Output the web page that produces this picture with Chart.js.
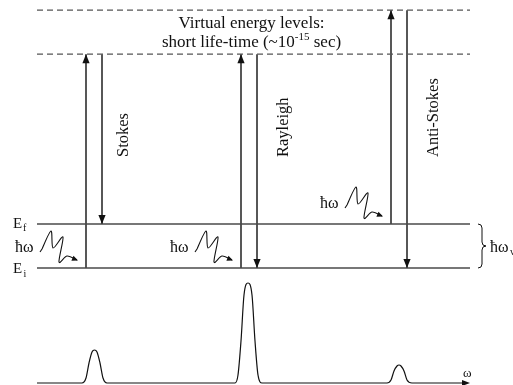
<!DOCTYPE html>
<html><head><meta charset="utf-8">
<script src="https://cdn.jsdelivr.net/npm/chart.js@4"></script>
<style>html,body{margin:0;padding:0;background:#fff;overflow:hidden}canvas{display:block}</style>
</head><body>
<canvas id="c" width="513" height="385"></canvas>
<script>
// ---- data ----
// energy levels in units of the vibrational quantum (E_i = 0)
const realLevelNames = ['Ei', 'Ef'];
const realLevels = [0, 1];
const virtualLevels = [4.86, 5.86];
// scattering processes
const processNames = ['Stokes', 'Rayleigh', 'Anti-Stokes'];
const excitationW = [86, 241, 391];
const emissionW = [102, 257, 407];
const excitationFrom = [0, 0, 1];
const excitationTo = [4.86, 4.86, 5.86];
const emissionFrom = [4.86, 4.86, 5.86];
const emissionTo = [1, 0, 0];
// scattered spectrum (omega, intensity)
const spectrumW = [37, 82, 86, 89, 92, 94.5, 97, 100, 103, 107,
  235, 238, 241, 244, 248, 252, 255, 258, 262,
  387, 391, 394, 397, 399, 401, 404, 407, 412, 467];
const spectrumI = [0, 0, 0.05, 0.2, 0.31, 0.33, 0.31, 0.2, 0.05, 0,
  0, 0.08, 0.42, 0.88, 1.0, 0.88, 0.42, 0.08, 0,
  0, 0.03, 0.12, 0.17, 0.18, 0.17, 0.12, 0.03, 0, 0];
const levelExtent = [37, 470];

// ---- datasets ----
const datasets = [];
realLevels.forEach(e => datasets.push({data: [{x: levelExtent[0], y: e}, {x: levelExtent[1], y: e}], borderColor: '#4a4a4a', borderWidth: 1.3}));
virtualLevels.forEach(e => datasets.push({data: [{x: levelExtent[0], y: e}, {x: levelExtent[1], y: e}], borderColor: '#555', borderWidth: 1.1, borderDash: [6, 4]}));
processNames.forEach((n, i) => {
  datasets.push({data: [{x: excitationW[i], y: excitationFrom[i]}, {x: excitationW[i], y: excitationTo[i]}], borderColor: '#111', borderWidth: 1.4});
  datasets.push({data: [{x: emissionW[i], y: emissionFrom[i]}, {x: emissionW[i], y: emissionTo[i]}], borderColor: '#111', borderWidth: 1.4});
});
datasets.push({data: spectrumW.map((w, i) => ({x: w, y: spectrumI[i]})), yAxisID: 'yS', borderColor: '#111', borderWidth: 1.2, cubicInterpolationMode: 'monotone'});

const SERIF = '"Liberation Serif", "Times New Roman", serif';

const diagram = {
  id: 'diagram',
  afterDatasetsDraw(chart) {
    const {ctx, scales: {x, y, yS}} = chart;
    const X = v => x.getPixelForValue(v), Y = v => y.getPixelForValue(v), YS = v => yS.getPixelForValue(v);
    ctx.save();
    ctx.fillStyle = '#111'; ctx.strokeStyle = '#111';
    function head(px, py, ang, len, hw) {
      ctx.save(); ctx.translate(px, py); ctx.rotate(ang);
      ctx.beginPath(); ctx.moveTo(0, 0); ctx.lineTo(-len, -hw); ctx.lineTo(-len, hw); ctx.closePath(); ctx.fill();
      ctx.restore();
    }
    processNames.forEach((n, i) => {
      head(X(excitationW[i]), Y(excitationTo[i]), -Math.PI / 2, 9, 3.6);
      head(X(emissionW[i]), Y(emissionTo[i]), Math.PI / 2, 9, 3.6);
    });
    // spectrum axis arrow
    head(X(spectrumW[spectrumW.length - 1]) + 3, YS(0), 0, 8, 3);

    // photons
    const tmpl = [[-35, -11], [-26, -29], [-24, -12], [-14, -23], [-18, 2], [-10, -4], [0, 0]];
    function photon(tx, ty) {
      const p = tmpl.map(o => [tx + o[0], ty + o[1]]);
      ctx.beginPath(); ctx.lineWidth = 1.1;
      ctx.moveTo(p[0][0] - 2, p[0][1] + 3); ctx.lineTo(p[0][0], p[0][1]);
      for (let i = 0; i < p.length - 1; i++) {
        const p0 = p[Math.max(i - 1, 0)], p1 = p[i], p2 = p[i + 1], p3 = p[Math.min(i + 2, p.length - 1)];
        const t = 0.3;
        ctx.bezierCurveTo(p1[0] + (p2[0] - p0[0]) * t / 2, p1[1] + (p2[1] - p0[1]) * t / 2,
          p2[0] - (p3[0] - p1[0]) * t / 2, p2[1] - (p3[1] - p1[1]) * t / 2, p2[0], p2[1]);
      }
      ctx.stroke();
      head(tx + 1, ty + 0.5, Math.atan2(4, 10), 6, 2.8);
    }
    const photonAt = [[excitationW[0], 0], [excitationW[1], 0], [excitationW[2], 1]];
    ctx.font = '16px ' + SERIF; ctx.textAlign = 'left'; ctx.textBaseline = 'alphabetic';
    photonAt.forEach(([w, e]) => {
      const tx = X(w) - 9, ty = Y(e) - 8;
      photon(tx, ty);
      ctx.fillText('ħω', tx - 62, ty - 8);
    });

    // level labels
    ctx.font = '15px ' + SERIF;
    ctx.fillText('E', 13, Y(1) + 4);
    ctx.fillText('E', 13, Y(0) + 5);
    ctx.font = '10px ' + SERIF;
    ctx.fillText('f', 23, Y(1) + 7);
    ctx.fillText('i', 23.5, Y(0) + 9);

    // brace
    const bx = levelExtent[1] + 8, yt = Y(1), yb = Y(0), ym = (yt + yb) / 2;
    ctx.beginPath(); ctx.lineWidth = 1;
    ctx.moveTo(bx, yt); ctx.quadraticCurveTo(bx + 4, yt, bx + 4, yt + 4);
    ctx.lineTo(bx + 4, ym - 4); ctx.quadraticCurveTo(bx + 4, ym, bx + 8, ym);
    ctx.quadraticCurveTo(bx + 4, ym, bx + 4, ym + 4);
    ctx.lineTo(bx + 4, yb - 4); ctx.quadraticCurveTo(bx + 4, yb, bx, yb);
    ctx.stroke();
    ctx.font = '16px ' + SERIF;
    ctx.fillText('ħω', bx + 12, ym + 6);
    ctx.font = '10px ' + SERIF;
    ctx.fillText('v', bx + 32, ym + 9);

    // virtual level caption
    const cx = (levelExtent[0] + levelExtent[1]) / 2 - 2;
    ctx.font = '17px ' + SERIF; ctx.textAlign = 'center';
    ctx.fillText('Virtual energy levels:', cx, 28);
    ctx.textAlign = 'left';
    const a = 'short life-time (~10', s = '-15', b = ' sec)';
    ctx.font = '17px ' + SERIF; const wa = ctx.measureText(a).width, wb = ctx.measureText(b).width;
    ctx.font = '11px ' + SERIF; const ws = ctx.measureText(s).width;
    let sx = cx - (wa + ws + wb) / 2;
    ctx.font = '17px ' + SERIF; ctx.fillText(a, sx, 47);
    ctx.font = '11px ' + SERIF; ctx.fillText(s, sx + wa, 40);
    ctx.font = '17px ' + SERIF; ctx.fillText(b, sx + wa + ws, 47);

    // process labels (rotated)
    const offs = [26, 31, 31];
    ctx.font = '16.5px ' + SERIF;
    processNames.forEach((n, i) => {
      ctx.save(); ctx.translate(X(emissionW[i]) + offs[i], 157); ctx.rotate(-Math.PI / 2);
      ctx.fillText(n, 0, 0); ctx.restore();
    });

    // omega axis label
    ctx.font = '13px ' + SERIF;
    ctx.fillText('ω', 463, 377);
    ctx.restore();
  }
};

new Chart(document.getElementById('c'), {
  type: 'line',
  data: {datasets},
  options: {
    responsive: false, animation: false, devicePixelRatio: 1,
    layout: {padding: 0},
    elements: {point: {radius: 0}, line: {tension: 0}},
    plugins: {legend: {display: false}, tooltip: {enabled: false}},
    scales: {
      x: {type: 'linear', display: false, min: 0, max: 513},
      y: {type: 'linear', display: false, min: -117 / 44, max: 268 / 44},
      yS: {type: 'linear', display: false, min: -2 / 100, max: 383 / 100}
    }
  },
  plugins: [diagram]
});
</script>
</body></html>
